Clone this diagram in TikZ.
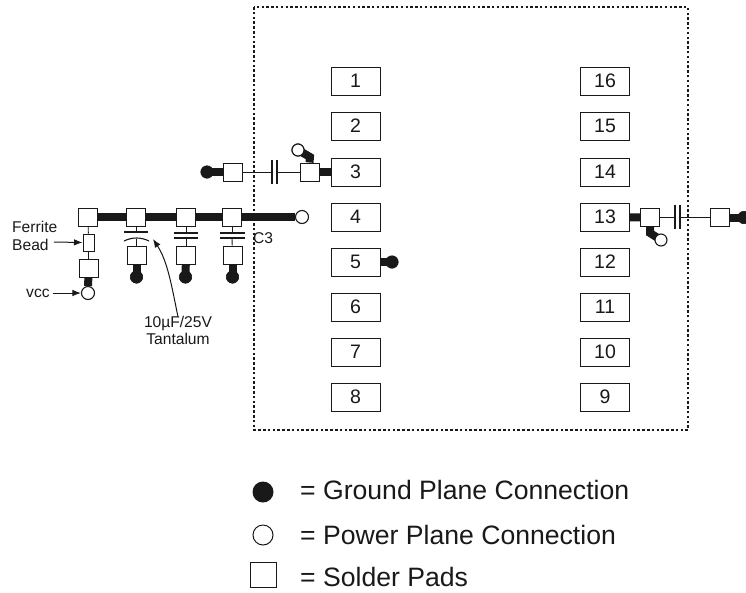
\documentclass[tikz,border=0pt]{standalone}
\usepackage{fontspec}
\setmainfont{Liberation Sans}
\usetikzlibrary{arrows.meta}
\definecolor{ink}{gray}{0.1}
\tikzset{
  pin/.style={draw=ink,line width=1pt,fill=white,minimum width=49pt,minimum height=28pt,inner sep=0pt,font=\fontsize{19.5}{19.5}\selectfont,text=ink},
  pad/.style={draw=ink,line width=1pt,fill=white,minimum width=19pt,minimum height=18pt,inner sep=0pt},
  bead/.style={draw=ink,line width=1pt,fill=white,minimum width=11pt,minimum height=17pt,inner sep=0pt},
  gnd/.style={circle,fill=ink,draw=ink,line width=0.6pt,minimum size=12.5pt,inner sep=0pt},
  pwr/.style={circle,fill=white,draw=ink,line width=1.1pt,minimum size=13pt,inner sep=0pt},
  trace/.style={line width=8pt,draw=ink},
  wire/.style={line width=0.9pt,draw=ink},
  plate/.style={line width=1.1pt,draw=ink},
  lbl/.style={inner sep=0pt,text=ink,font=\fontsize{15.6}{17.5}\selectfont},
  legend/.style={inner sep=0pt,anchor=base west,text=ink,font=\fontsize{26.6}{26.6}\selectfont},
  arr/.style={line width=1pt,draw=ink,-{Latex[length=8.5pt,width=6.5pt]}},
  chipline/.style={draw=ink,line width=2.6pt,dash pattern=on 2.5pt off 2.3pt}
}
\begin{document}
\begin{tikzpicture}[x=1pt,y=-1pt]
\useasboundingbox (0,0) rectangle (746,592);
\draw[chipline] (254,7) rectangle (688,430);
% pins
\foreach \n/\y in {1/81,2/126,3/172,4/217,5/262,6/307,7/352,8/397}
  \node[pin] (p\n) at (355.5,\y) {\n};
\foreach \n/\y in {16/81,15/126,14/172,13/217,12/262,11/307,10/352,9/397}
  \node[pin] (p\n) at (605,\y) {\n};
% pin 5
\node[gnd] (g5) at (392,262) {};
\draw[trace] (p5) -- (g5.center);
% pin 3 network
\node[pad] (a1) at (232.5,172) {};
\node[pad] (a2) at (309.5,172) {};
\node[gnd] (ag) at (207,172) {};
\node[pwr,minimum size=12pt] (ap) at (298,150) {};
\coordinate (ab) at (310,157);
\coordinate (c3a) at (272,172);
\coordinate (c3b) at (277,172);
\draw[trace] (ag.center) -- (a1);
\draw[trace] (a2) -- (p3);
\draw[trace,line join=miter] (ap.center) -- (ab) -- (a2.north);
\node[pwr,minimum size=12pt] at (298,150) {};
\draw[wire] (a1) -- (c3a);
\draw[wire] (c3b) -- (a2);
\draw[plate] (272,160) -- (272,184);
\draw[plate] (277,160) -- (277,184);
% pin 13 network
\node[pad] (b1) at (650,217.5) {};
\node[pad] (b2) at (719.5,217.5) {};
\node[gnd] (bg) at (744,217.5) {};
\coordinate (bb) at (650,233);
\coordinate (c13a) at (675,217.5);
\coordinate (c13b) at (680,217.5);
\draw[trace] (p13) -- (b1);
\draw[trace] (b2) -- (bg.center);
\draw[trace] (b1.south) -- (bb) -- (661,240);
\node[pwr,minimum size=12pt] (bp) at (661,240) {};
\draw[wire] (b1) -- (c13a);
\draw[wire] (c13b) -- (b2);
\draw[plate] (675,205) -- (675,229);
\draw[plate] (680,205) -- (680,229);
% power bus
\node[pad] (d1) at (88,217) {};
\node[pad] (d2) at (136,217) {};
\node[pad] (d3) at (186,217) {};
\node[pad] (d4) at (232,217) {};
\node[pwr] (dp) at (302,217) {};
\draw[trace] (d1) -- (d2);
\draw[trace] (d2) -- (d3);
\draw[trace] (d3) -- (d4);
\draw[trace] (d4) -- (dp);
% ferrite branch
\node[bead] (fb) at (88.5,242.5) {};
\node[pad] (f2) at (88.5,268) {};
\node[pwr] (vcc) at (88,293) {};
\draw[wire] (d1) -- (fb);
\draw[wire] (fb) -- (f2);
\draw[trace] (f2) -- (vcc);
% decoupling capacitors
\node[pad] (e2) at (136.5,255) {};
\node[pad] (e3) at (186,255) {};
\node[pad] (e4) at (232.5,255) {};
\node[gnd] (eg2) at (136.5,277) {};
\node[gnd] (eg3) at (185.5,277) {};
\node[gnd] (eg4) at (232.5,277) {};
\draw[trace] (e2) -- (eg2.center);
\draw[trace] (e3) -- (eg3.center);
\draw[trace] (e4) -- (eg4.center);
\coordinate (t2a) at (136,232);
\coordinate (t2b) at (136.5,239);
\coordinate (t3a) at (186,233);
\coordinate (t3b) at (186,238);
\coordinate (t4a) at (232,233);
\coordinate (t4b) at (232,238);
\draw[wire] (d2) -- (t2a);
\draw[wire] (t2b) -- (e2);
\draw[wire] (d3) -- (t3a);
\draw[wire] (t3b) -- (e3);
\draw[wire] (d4) -- (t4a);
\draw[wire] (t4b) -- (e4);
\draw[plate] (124,232) -- (148,232);
\draw[plate] (124,241) .. controls (132,237) and (141,237) .. (149,241);
\draw[plate] (174,233) -- (198,233);
\draw[plate] (174,238) -- (198,238);
\draw[plate] (220,233) -- (245,233);
\draw[plate] (220,238) -- (245,238);
% labels
\node[lbl,anchor=west] (c3lbl) at (253,238) {C3};
\node[lbl,anchor=west,align=left] (ferr) at (12,236) {Ferrite\\Bead};
\node[lbl,anchor=west] (vcclbl) at (26,293.5) {vcc};
\node[lbl,align=center] (tant) at (178,330.5) {10µF/25V\\Tantalum};
\draw[arr] (54,242) -- (fb.west);
\draw[arr] (vcclbl.east |- vcc) ++(3,0) -- (vcc.west);
\coordinate (ttip) at (153,239);
\draw[arr] (tant.north) ++(0,1) .. controls (172,288) and (168,262) .. (ttip);
% legend
\node[circle,fill=ink,minimum size=21pt,inner sep=0pt] (lg) at (263,492) {};
\node[circle,draw=ink,line width=1pt,fill=white,minimum size=20pt,inner sep=0pt] (lp) at (263,535) {};
\node[draw=ink,line width=1pt,fill=white,minimum width=26pt,minimum height=25pt,inner sep=0pt] (ls) at (263.5,574.5) {};
\node[legend] (lt1) at (300,499) {= Ground Plane Connection};
\node[legend] (lt2) at (300,544) {= Power Plane Connection};
\node[legend] (lt3) at (300,586.5) {= Solder Pads};
\end{tikzpicture}
\end{document}
